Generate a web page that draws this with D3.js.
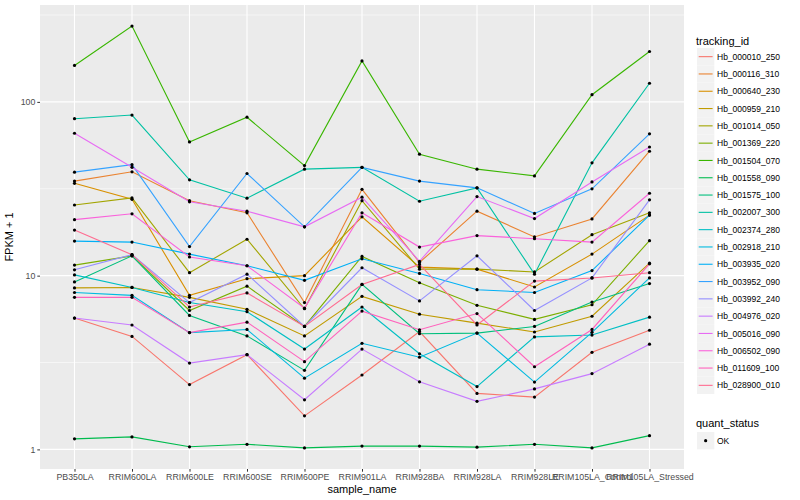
<!DOCTYPE html>
<html>
<head>
<meta charset="utf-8">
<script src="https://cdn.jsdelivr.net/npm/d3@7"></script>
<style>
  body { margin: 0; background: #fff; }
  svg { display: block; font-family: "Liberation Sans", Arial, sans-serif; }
</style>
</head>
<body>
<svg id="chart" width="800" height="500"></svg>
<script>
// Образцы по оси X
const samples = ['PB350LA', 'RRIM600LA', 'RRIM600LE', 'RRIM600SE', 'RRIM600PE', 'RRIM901LA',
  'RRIM928BA', 'RRIM928LA', 'RRIM928LE', 'RRIM105LA_Control', 'RRIM105LA_Stressed'];

const trackingIds = ['Hb_000010_250', 'Hb_000116_310', 'Hb_000640_230', 'Hb_000959_210',
  'Hb_001014_050', 'Hb_001369_220', 'Hb_001504_070', 'Hb_001558_090', 'Hb_001575_100',
  'Hb_002007_300', 'Hb_002374_280', 'Hb_002918_210', 'Hb_003935_020', 'Hb_003952_090',
  'Hb_003992_240', 'Hb_004976_020', 'Hb_005016_090', 'Hb_006502_090', 'Hb_011609_100',
  'Hb_028900_010'];

// FPKM + 1 по каждому гену (в порядке samples)
const hb000010 = [5.7, 4.47, 2.36, 3.51, 1.56, 2.68, 4.77, 2.1, 2.0, 3.62, 4.85];
const hb000116 = [35, 39.6, 27, 23, 7.0, 31.4, 11.9, 23.5, 16.7, 21.2, 52];
const hb000640 = [34, 27.5, 7.7, 9.6, 10, 21.8, 11.2, 10.9, 8.6, 13.3, 22.3];
const hb000959 = [8.5, 8.55, 7.5, 6.4, 4.5, 7.6, 6.0, 5.33, 4.74, 5.84, 11.8];
const hb001014 = [25.5, 28, 10.4, 16.2, 6.45, 27, 10.9, 10.9, 10.5, 17.2, 23];
const hb001369 = [11.5, 13, 6.3, 8.7, 5.1, 12.9, 9.1, 6.75, 5.6, 6.8, 15.9];
const hb001504 = [162, 273, 58.8, 81.6, 43, 172, 50, 41, 37.5, 110, 195];
const hb001558 = [1.15, 1.18, 1.035, 1.07, 1.02, 1.045, 1.045, 1.03, 1.07, 1.02, 1.2];
const hb001575 = [9.2, 13, 5.9, 4.5, 2.85, 8.9, 4.63, 4.67, 5.1, 7.05, 9.0];
const hb002007 = [80, 84, 35.6, 27.9, 41, 42, 26.8, 32, 10.2, 44.6, 128];
const hb002374 = [10.1, 8.55, 7.0, 6.2, 3.78, 6.6, 3.55, 2.3, 4.44, 4.55, 5.77];
const hb002918 = [8.0, 7.7, 4.7, 4.9, 2.57, 4.08, 3.39, 4.67, 2.44, 4.72, 9.7];
const hb003935 = [15.8, 15.6, 13.3, 11.4, 9.4, 12.5, 10.3, 8.3, 8.0, 10.7, 22.3];
const hb003952 = [39.4, 43.5, 14.7, 38.7, 19.1, 42, 35, 32, 22.8, 31.6, 65.5];
const hb003992 = [10.8, 13.2, 7.0, 10.2, 5.1, 11.1, 7.15, 13, 6.3, 9.7, 27.3];
const hb004976 = [5.7, 5.2, 3.14, 3.51, 1.93, 3.78, 2.45, 1.89, 2.23, 2.73, 4.03];
const hb005016 = [66, 42, 26.6, 23.5, 19.1, 28.3, 12.1, 28.5, 21.3, 34.6, 55];
const hb006502 = [21, 22.7, 12.8, 11.4, 6.5, 23, 14.6, 17, 16.3, 15.6, 29.8];
const hb011609 = [7.5, 7.5, 4.7, 5.4, 3.2, 6.25, 4.88, 6.05, 2.99, 4.9, 11.7];
const hb028900 = [18.3, 13.2, 6.6, 7.95, 5.1, 8.9, 11.6, 5.2, 9.3, 9.7, 10.4];

const seriesValues = [hb000010, hb000116, hb000640, hb000959, hb001014, hb001369, hb001504,
  hb001558, hb001575, hb002007, hb002374, hb002918, hb003935, hb003952, hb003992, hb004976,
  hb005016, hb006502, hb011609, hb028900];

const yTicks = [1, 10, 100];
const yMinor = [Math.sqrt(10), Math.sqrt(1000), Math.sqrt(100000)];
const quantLevels = ['OK'];

// Палитра ggplot hue_pal()(20)
const palette = ['#F8766D', '#EA8331', '#D89000', '#C09B00', '#A3A500', '#7CAE00', '#39B600',
  '#00BB4E', '#00BF7D', '#00C1A3', '#00BFC4', '#00BAE0', '#00B0F6', '#35A2FF', '#9590FF',
  '#C77CFF', '#E76BF3', '#FA62DB', '#FF62BC', '#FF6C91'];

const panel = { left: 40, right: 684, top: 5, bottom: 469 };
const svg = d3.select('#chart');

const series = trackingIds.map((id, i) => ({
  id, color: palette[i],
  points: samples.map((s, j) => ({ sample: s, value: seriesValues[i][j] }))
}));

// Шкалы
const x = d3.scalePoint().domain(samples).range([panel.left, panel.right]).padding(0.6);
const allVals = seriesValues.flat();
const lo = Math.log10(d3.min(allVals)), hi = Math.log10(d3.max(allVals));
const pad = (hi - lo) * 0.05;
const y = d3.scaleLog().domain([Math.pow(10, lo - pad), Math.pow(10, hi + pad)])
  .range([panel.bottom, panel.top]);

// Фон панели и сетка
svg.append('rect').attr('x', panel.left).attr('y', panel.top)
  .attr('width', panel.right - panel.left).attr('height', panel.bottom - panel.top)
  .attr('fill', '#EBEBEB');

const grid = svg.append('g');
grid.selectAll('.minor').data(yMinor).enter().append('line')
  .attr('x1', panel.left).attr('x2', panel.right)
  .attr('y1', d => y(d)).attr('y2', d => y(d))
  .attr('stroke', '#fff').attr('stroke-width', 0.55);
grid.selectAll('.majy').data(yTicks).enter().append('line')
  .attr('x1', panel.left).attr('x2', panel.right)
  .attr('y1', d => y(d)).attr('y2', d => y(d))
  .attr('stroke', '#fff').attr('stroke-width', 1.1);
grid.selectAll('.majx').data(samples).enter().append('line')
  .attr('x1', d => x(d)).attr('x2', d => x(d))
  .attr('y1', panel.top).attr('y2', panel.bottom)
  .attr('stroke', '#fff').attr('stroke-width', 1.1);

// Линии
const line = d3.line().x(d => x(d.sample)).y(d => y(d.value));
svg.append('g').selectAll('path').data(series).enter().append('path')
  .attr('d', d => line(d.points))
  .attr('fill', 'none').attr('stroke', d => d.color).attr('stroke-width', 1.1);

// Точки
svg.append('g').selectAll('circle').data(series.flatMap(s => s.points)).enter()
  .append('circle')
  .attr('cx', d => x(d.sample)).attr('cy', d => y(d.value)).attr('r', 1.6)
  .attr('fill', '#000');

// Оси
const yAxis = d3.axisLeft(y).tickValues(yTicks).tickFormat(d3.format('d')).tickSize(2.7).tickPadding(2);
const yg = svg.append('g').attr('transform', `translate(${panel.left},0)`).call(yAxis);
const xAxis = d3.axisBottom(x).tickSize(2.7).tickPadding(2);
const xg = svg.append('g').attr('transform', `translate(0,${panel.bottom})`).call(xAxis);
[yg, xg].forEach(g => {
  g.select('.domain').remove();
  g.selectAll('.tick line').attr('stroke', '#333');
  g.selectAll('.tick text').attr('fill', '#4D4D4D')
    .style('font-size', '8.8px').style('font-family', '"Liberation Sans", Arial, sans-serif');
});

svg.append('text').attr('x', (panel.left + panel.right) / 2).attr('y', 493)
  .attr('text-anchor', 'middle').style('font-size', '11px').text('sample_name');
svg.append('text').attr('transform', `translate(13,${(panel.top + panel.bottom) / 2}) rotate(-90)`)
  .attr('text-anchor', 'middle').style('font-size', '11px').text('FPKM + 1');

// Легенда tracking_id
const legend = svg.append('g').attr('transform', 'translate(697,0)');
legend.append('text').attr('x', -1).attr('y', 44.5).style('font-size', '11px').text('tracking_id');
const keyH = 17.3, key0 = 48;
const rows = legend.selectAll('.row').data(series).enter().append('g')
  .attr('transform', (d, i) => `translate(0,${key0 + i * keyH})`);
rows.append('rect').attr('width', 17.3).attr('height', keyH).attr('fill', '#F2F2F2');
rows.append('line').attr('x1', 1.7).attr('x2', 15.6).attr('y1', keyH / 2).attr('y2', keyH / 2)
  .attr('stroke', d => d.color).attr('stroke-width', 1.1);
rows.append('text').attr('x', 20).attr('y', keyH / 2 + 3.1).style('font-size', '8.5px')
  .text(d => d.id);

// Легенда quant_status
const legend2 = svg.append('g').attr('transform', 'translate(697,0)');
legend2.append('text').attr('x', -1).attr('y', 427).style('font-size', '11px').text('quant_status');
const rows2 = legend2.selectAll('.row').data(quantLevels).enter().append('g')
  .attr('transform', (d, i) => `translate(0,${432 + i * keyH})`);
rows2.append('rect').attr('width', 17.3).attr('height', keyH).attr('fill', '#F2F2F2');
rows2.append('circle').attr('cx', 8.65).attr('cy', keyH / 2).attr('r', 1.6).attr('fill', '#000');
rows2.append('text').attr('x', 20).attr('y', keyH / 2 + 3.1).style('font-size', '8.5px').text(d => d);
</script>
</body>
</html>
